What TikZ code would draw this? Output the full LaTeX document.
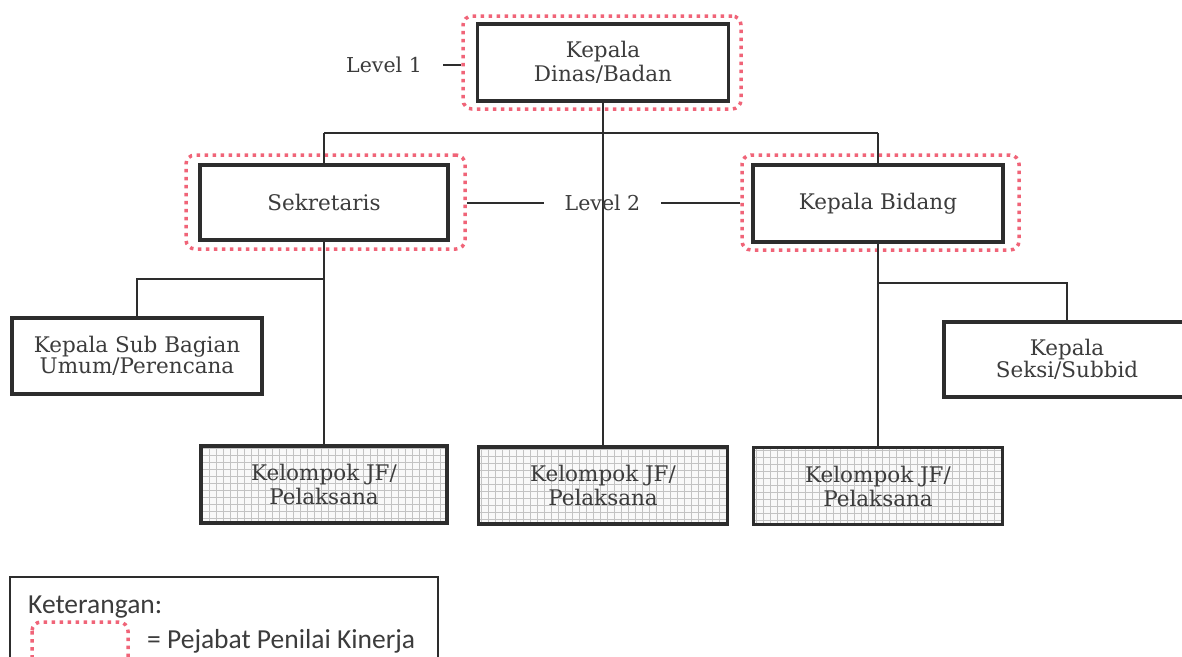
\documentclass[tikz,border=0pt]{standalone}
\usepackage{fontspec}
\setmainfont{DejaVu Serif}
\newfontfamily\legfont{Carlito}
\usetikzlibrary{fit,calc}
\definecolor{ink}{RGB}{45,45,45}
\definecolor{txt}{RGB}{60,60,60}
\definecolor{ppkred}{RGB}{240,100,120}
\definecolor{gridc}{RGB}{195,195,195}
\tikzset{
  box/.style={draw=ink, line width=3.5pt, fill=white, text=txt, align=center,
    font=\fontsize{21.5}{24}\selectfont, inner sep=0pt},
  tight/.style={font=\fontsize{21.5}{19.5}\selectfont},
  gridbox/.style={box, fill=gray!5, path picture={
      \draw[gridc, line width=0.7pt, step=7pt]
        (path picture bounding box.south west) grid (path picture bounding box.north east);}},
  ppk/.style={draw=ppkred, line width=3.5pt, dash pattern=on 3.5pt off 4.5pt,
    rounded corners=9pt, inner sep=0pt},
  conn/.style={draw=ink, line width=1.5pt},
  lvl/.style={text=txt, font=\fontsize{20.5}{22}\selectfont, inner ysep=0pt, inner xsep=21pt},
  legtext/.style={anchor=base west, inner sep=0pt, text=txt, font=\legfont\fontsize{27.5}{28}\selectfont},
}
\begin{document}
\begin{tikzpicture}[x=1pt,y=-1pt]
\clip (0,0) rectangle (1182,656);
\fill[white] (0,0) rectangle (1182,656);

% boxes
\node[box, minimum width=251pt, minimum height=77pt] (kd) at (603,62.5) {Kepala\\Dinas/Badan};
\node[box, minimum width=248pt, minimum height=75pt] (sek) at (324,202.5) {Sekretaris};
\node[box, minimum width=250pt, minimum height=77pt] (kb) at (878,203.5) {Kepala Bidang};
\node[box, tight, minimum width=250pt, minimum height=76pt] (sub) at (137,356) {Kepala Sub Bagian\\Umum/Perencana};
\node[box, tight, minimum width=246pt, minimum height=75pt] (seksi) at (1067,359.5) {Kepala\\Seksi/Subbid};
\node[gridbox, minimum width=246pt, minimum height=77pt] (kel1) at (324,484.5) {Kelompok JF/\\Pelaksana};
\node[gridbox, minimum width=249pt, minimum height=77pt] (kel2) at (603,485.5) {Kelompok JF/\\Pelaksana};
\node[gridbox, minimum width=249pt, minimum height=77pt] (kel3) at (878,486) {Kelompok JF/\\Pelaksana};

% dotted frames (Pejabat Penilai Kinerja)
\node[ppk, minimum width=278pt, minimum height=93pt] (f1) at (602,62.5) {};
\node[ppk, minimum width=279pt, minimum height=94pt] (f2) at (325.5,202) {};
\node[ppk, minimum width=277pt, minimum height=95pt] (f3) at (880.5,202.5) {};

% connectors
\coordinate (jl) at (324,133);
\coordinate (jr) at (878,133);
\coordinate (bl) at (324,279);
\coordinate (br) at (878,283);
\draw[conn] (kd.south) -- (kel2.north);
\draw[conn] (jl) -- (jr);
\draw[conn] (jl) -- (sek.north);
\draw[conn] (jr) -- (kb.north);
\draw[conn] (sek.south) -- (kel1.north);
\draw[conn] (kb.south) -- (kel3.north);
\draw[conn] (bl) -| (sub.north);
\draw[conn] (br) -| (seksi.north);

% level labels
\node[lvl, anchor=east] (l1) at (443,65) {Level 1};
\draw[conn] (l1.east) -- (l1.east -| f1.west);
\node[lvl] (l2) at (602.5,203) {Level 2};
\draw[conn] (l2.west) -- (l2.west -| f2.east);
\draw[conn] (l2.east) -- (l2.east -| f3.west);

% legend
\draw[draw=ink, line width=1.2pt] (10,577) rectangle (438,700);
\node[legtext] (ket) at (28,613) {Keterangan:};
\draw[ppk] (32,622) rectangle (128,672);
\node[legtext] (ppkt) at (147,648) {= Pejabat Penilai Kinerja};
\end{tikzpicture}
\end{document}
